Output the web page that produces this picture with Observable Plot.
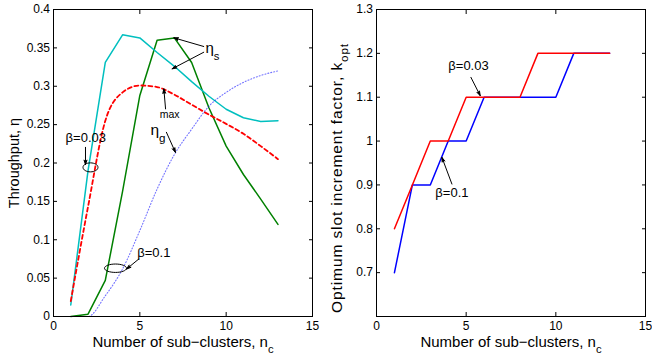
<!DOCTYPE html>
<html><head><meta charset="utf-8">
<script src="https://cdn.jsdelivr.net/npm/d3@7"></script>
<script src="https://cdn.jsdelivr.net/npm/@observablehq/plot@0.6"></script>
<style>
html,body{margin:0;padding:0;background:#fff;}
#wrap{display:flex;width:652px;height:358px;overflow:hidden;}
#wrap svg{display:block;}
</style></head><body><div id="wrap"></div>
<script>
// ---- data ----
const nc = [1,2,3,4,5,6,7,8,9,10,11,12,13];
const etaS_b003    = [0.015,0.19,0.331,0.367,0.363,0.344,0.326,0.306,0.287,0.27,0.259,0.254,0.255];
const etaGmax_b003 = [0.02,0.143,0.255,0.292,0.301,0.299,0.289,0.276,0.263,0.251,0.238,0.222,0.205];
const etaS_b01     = [0,0.003,0.047,0.163,0.288,0.36,0.363,0.331,0.272,0.222,0.185,0.153,0.12];
const etaGmax_b01  = [0,0,0.027,0.062,0.112,0.166,0.211,0.244,0.274,0.292,0.305,0.314,0.32];
const kopt_b003    = [0.8,0.9,1.0,1.0,1.1,1.1,1.1,1.1,1.2,1.2,1.2,1.2,1.2];
const kopt_b01     = [0.7,0.9,0.9,1.0,1.0,1.1,1.1,1.1,1.1,1.1,1.2,1.2,1.2];
const xTicks  = [0,5,10,15];
const yTicksL = [0,0.05,0.1,0.15,0.2,0.25,0.3,0.35,0.4];
const yTicksR = [0.7,0.8,0.9,1.0,1.1,1.2,1.3];
const xLabel  = "Number of sub\u2212clusters, n_{c}";
const yLabelL = "Throughput, \u03b7";
const yLabelR = "Optimum slot increment factor, k_{opt}";
const beta003 = "\u03b2=0.03";
const beta01  = "\u03b2=0.1";

const rows = ys => nc.map((x, i) => ({x, y: ys[i]}));
const fmt = d => String(+(+d).toFixed(2));
const FONT = "'Liberation Sans', Arial, Helvetica, sans-serif";

function ellipse(rx, ry) {
  const k = 0.5523;
  return {draw(c) {
    c.moveTo(rx, 0);
    c.bezierCurveTo(rx, ry * k, rx * k, ry, 0, ry);
    c.bezierCurveTo(-rx * k, ry, -rx, ry * k, -rx, 0);
    c.bezierCurveTo(-rx, -ry * k, -rx * k, -ry, 0, -ry);
    c.bezierCurveTo(rx * k, -ry, rx, -ry * k, rx, 0);
    c.closePath();
  }};
}

function boxAxes(yt) {
  return [
    Plot.axisX({anchor: "bottom", ticks: xTicks, tickSize: -4, tickPadding: 8.5, tickFormat: fmt, label: null}),
    Plot.axisX({anchor: "top", ticks: xTicks, tickSize: -4, tickFormat: () => "", label: null}),
    Plot.axisY({anchor: "left", ticks: yt, tickSize: -4, tickPadding: 7.5, tickFormat: fmt, label: null}),
    Plot.axisY({anchor: "right", ticks: yt, tickSize: -4, tickFormat: () => "", label: null}),
    Plot.frame({stroke: "black", strokeWidth: 1})
  ];
}

const arrowOpts = {x1: "x1", y1: "y1", x2: "x2", y2: "y2", stroke: "black", strokeWidth: 1, headLength: 7, headAngle: 36};

// ---- left chart ----
const left = Plot.plot({
  width: 326, height: 358,
  marginLeft: 53, marginRight: 14, marginTop: 9, marginBottom: 42,
  style: {fontFamily: FONT, fontSize: "12px", color: "black", background: "white", overflow: "visible"},
  x: {domain: [0, 15]},
  y: {domain: [0, 0.4]},
  marks: [
    Plot.line(rows(etaS_b01), {x: "x", y: "y", stroke: "#008000", strokeWidth: 1.5}),
    Plot.line(rows(etaS_b003), {x: "x", y: "y", stroke: "#00BFBF", strokeWidth: 1.5}),
    Plot.line(rows(etaGmax_b01), {x: "x", y: "y", stroke: "#0000ff", strokeOpacity: 0.55, strokeWidth: 1.1, strokeDasharray: "1,2", curve: "monotone-x"}),
    Plot.line(rows(etaGmax_b003), {x: "x", y: "y", stroke: "#ff0000", strokeWidth: 1.8, strokeDasharray: "4,3", curve: "monotone-x"}),
    ...boxAxes(yTicksL),
    Plot.arrow([
      {x1: 8.70, y1: 0.3518, x2: 6.97, y2: 0.3631},
      {x1: 8.70, y1: 0.3443, x2: 6.87, y2: 0.3227},
      {x1: 6.49, y1: 0.2705, x2: 6.39, y2: 0.2966},
      {x1: 6.54, y1: 0.2400, x2: 7.06, y2: 0.2139},
      {x1: 1.853, y1: 0.2204, x2: 1.853, y2: 0.1979},
      {x1: 4.94, y1: 0.0749, x2: 4.23, y2: 0.0618}
    ], arrowOpts),
    Plot.dot([{x: 2.142, y: 0.1943}], {x: "x", y: "y", symbol: ellipse(7.5, 4.5), stroke: "black", fill: "none", strokeWidth: 1}),
    Plot.dot([{x: 3.59, y: 0.0629}], {x: "x", y: "y", symbol: ellipse(11, 4.2), stroke: "black", fill: "none", strokeWidth: 1}),
    Plot.text([beta003], {x: 1.87, y: 0.2322, text: d => d, fontSize: 13}),
    Plot.text([beta01], {x: 5.81, y: 0.0831, text: d => d, fontSize: 13}),
    Plot.text(["\u03b7_{s}"], {x: 8.80, y: 0.3498, text: d => d, textAnchor: "start", fontSize: 15}),
    Plot.text(["\u03b7_{g}"], {x: 5.617, y: 0.2430, text: d => d, textAnchor: "start", fontSize: 15.5}),
    Plot.text(["max"], {x: 6.15, y: 0.2625, text: d => d, textAnchor: "start", fontSize: 10.5}),
    Plot.text([xLabel], {frameAnchor: "bottom", dy: 30, lineAnchor: "bottom", textAnchor: "middle", text: d => d, fontSize: 15}),
    Plot.text([yLabelL], {frameAnchor: "left", dx: -35, lineAnchor: "bottom", textAnchor: "middle", rotate: -90, text: d => d, fontSize: 14.5})
  ]
});

// ---- right chart ----
const right = Plot.plot({
  width: 326, height: 358,
  marginLeft: 50, marginRight: 7, marginTop: 9, marginBottom: 42,
  style: {fontFamily: FONT, fontSize: "12px", color: "black", background: "white", overflow: "visible"},
  x: {domain: [0, 15]},
  y: {domain: [0.6, 1.3]},
  marks: [
    Plot.line(rows(kopt_b01), {x: "x", y: "y", stroke: "#0000ff", strokeWidth: 1.5}),
    Plot.line(rows(kopt_b003), {x: "x", y: "y", stroke: "#ff0000", strokeWidth: 1.5}),
    ...boxAxes(yTicksR),
    Plot.arrow([
      {x1: 5.265, y1: 1.1453, x2: 5.784, y2: 1.1035},
      {x1: 4.205, y1: 0.902, x2: 3.648, y2: 0.9628}
    ], arrowOpts),
    Plot.text([beta003], {x: 5.13, y: 1.172, text: d => d, fontSize: 13}),
    Plot.text([beta01], {x: 4.205, y: 0.881, text: d => d, fontSize: 13}),
    Plot.text([xLabel], {frameAnchor: "bottom", dy: 30, lineAnchor: "bottom", textAnchor: "middle", text: d => d, fontSize: 15}),
    Plot.text([yLabelR], {frameAnchor: "left", dx: -35, dy: 15, lineAnchor: "bottom", textAnchor: "middle", rotate: -90, text: d => d, fontSize: 15.5})
  ]
});

const wrap = document.getElementById("wrap");
wrap.appendChild(left);
wrap.appendChild(right);

// turn "_{...}" into real subscripts
function richify(svg) {
  const NS = "http://www.w3.org/2000/svg";
  svg.querySelectorAll("text").forEach(t => {
    const s = t.textContent;
    if (!s.includes("_{")) return;
    const fs = parseFloat(getComputedStyle(t).fontSize) || 12;
    const parts = s.split(/(_\{[^}]*\})/).filter(p => p);
    while (t.firstChild) t.removeChild(t.firstChild);
    let shifted = false;
    for (const p of parts) {
      const ts = document.createElementNS(NS, "tspan");
      if (p.startsWith("_{")) {
        ts.textContent = p.slice(2, -1);
        ts.setAttribute("font-size", (fs * 0.75).toFixed(2));
        ts.setAttribute("dy", (fs * 0.45).toFixed(2));
        shifted = true;
      } else {
        ts.textContent = p;
        if (shifted) { ts.setAttribute("dy", (-fs * 0.45).toFixed(2)); shifted = false; }
      }
      t.appendChild(ts);
    }
  });
}
richify(left);
richify(right);

// filled arrow heads, as in the reference
[left, right].forEach(svg => {
  svg.querySelectorAll('g[aria-label="arrow"] path').forEach(p => {
    p.setAttribute("fill", "black");
    p.setAttribute("stroke-linejoin", "miter");
  });
});

// spread the long right-hand y label to the reference's length
right.querySelectorAll("text").forEach(t => {
  if (t.textContent.startsWith("Optimum")) t.setAttribute("letter-spacing", "0.9");
});
</script>
</body></html>
